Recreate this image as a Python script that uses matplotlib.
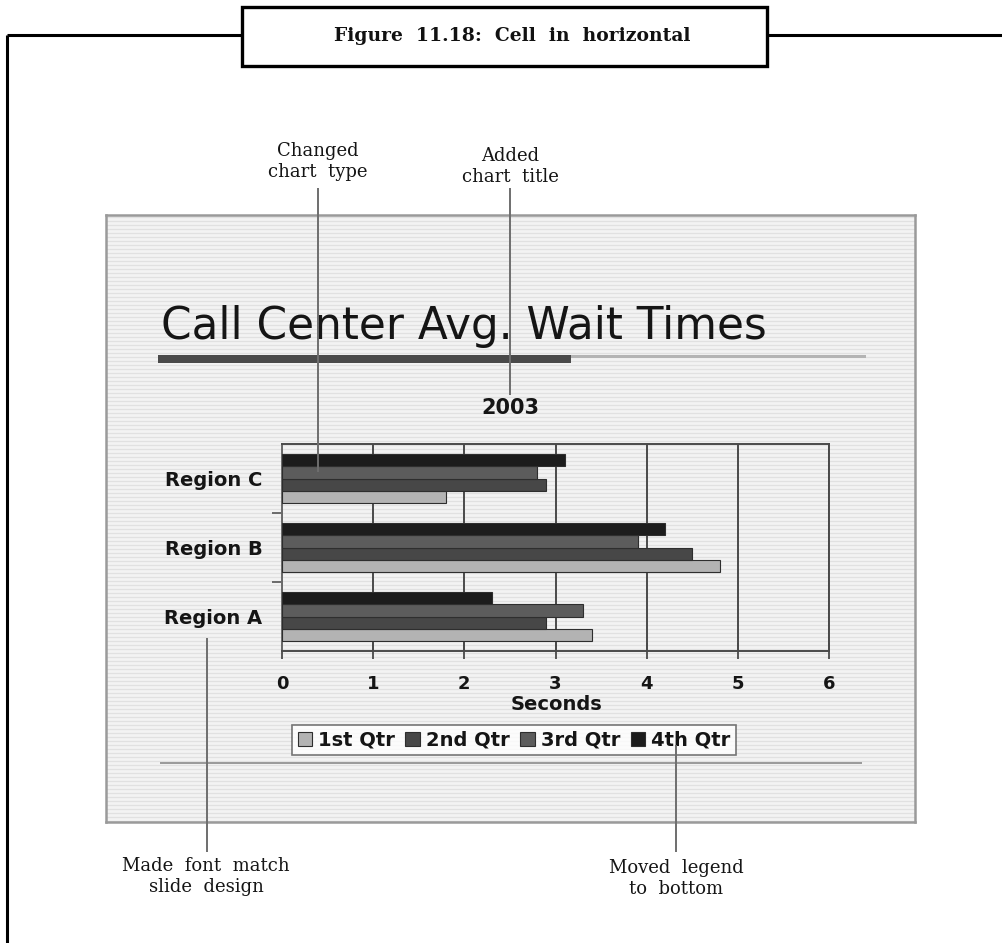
import matplotlib
matplotlib.use("Agg")
import matplotlib.pyplot as plt
from matplotlib.patches import Rectangle
from matplotlib.lines import Line2D
from matplotlib.ticker import FixedLocator

# ---- data ----
regions = ["Region A", "Region B", "Region C"]
quarters = ["1st Qtr", "2nd Qtr", "3rd Qtr", "4th Qtr"]
qtr1 = [3.4, 4.8, 1.8]
qtr2 = [2.9, 4.5, 2.9]
qtr3 = [3.3, 3.9, 2.8]
qtr4 = [2.3, 4.2, 3.1]
x_ticks = [0, 1, 2, 3, 4, 5, 6]

chart_title = "Call Center Avg. Wait Times"
chart_subtitle = "2003"
x_label = "Seconds"
figure_caption = "Figure  11.18:  Cell  in  horizontal"

series = [qtr1, qtr2, qtr3, qtr4]
colors = ["#b3b3b3", "#474747", "#5c5c5c", "#1c1c1c"]

W, H = 1002, 943
fig = plt.figure(figsize=(W / 100, H / 100), dpi=100)
fig.patch.set_facecolor("white")


def fx(px):
    return px / W


def fy(py):
    return 1 - py / H


def hline(x0, x1, y, color, lw, z=5):
    fig.add_artist(Line2D([fx(x0), fx(x1)], [fy(y), fy(y)], color=color, lw=lw,
                          transform=fig.transFigure, zorder=z, solid_capstyle="butt"))


def vline(x, y0, y1, color, lw, z=5):
    fig.add_artist(Line2D([fx(x), fx(x)], [fy(y0), fy(y1)], color=color, lw=lw,
                          transform=fig.transFigure, zorder=z, solid_capstyle="butt"))


# ---- outer page frame and caption box ----
hline(7, 242, 35, "black", 2.2)
hline(767, 1002, 35, "black", 2.2)
vline(7, 35, 943, "black", 2.2)
fig.add_artist(Rectangle((fx(242), fy(66)), fx(767) - fx(242), (66 - 7) / H,
                         facecolor="white", edgecolor="black", lw=2.4,
                         transform=fig.transFigure, zorder=6))
fig.text(fx(512), fy(36), figure_caption, ha="center", va="center",
         family="DejaVu Serif", weight="bold", fontsize=13.5, color="#111111", zorder=7)

# ---- slide panel with striped background ----
bg = fig.add_axes([fx(106), fy(822), fx(915) - fx(106), (822 - 215) / H], zorder=0)
bg.set_xlim(0, 1)
bg.set_ylim(822, 215)
bg.set_facecolor("#f3f3f3")
for yy in range(217, 822, 4):
    bg.axhline(yy, color="#e1e1e1", lw=0.9)
bg.set_xticks([])
bg.set_yticks([])
for s in bg.spines.values():
    s.set_color("#9a9a9a")
    s.set_linewidth(1.8)

# slide title and underline
fig.text(fx(161), fy(339), chart_title, ha="left", va="baseline",
         family="DejaVu Sans", fontsize=31.5, color="#151515", zorder=3)
fig.add_artist(Rectangle((fx(158), fy(357.5)), fx(866) - fx(158), 2.5 / H,
                         facecolor="#b4b4b4", edgecolor="none",
                         transform=fig.transFigure, zorder=3))
fig.add_artist(Rectangle((fx(158), fy(363)), fx(571) - fx(158), 8 / H,
                         facecolor="#4a4a4a", edgecolor="none",
                         transform=fig.transFigure, zorder=3))
fig.text(fx(510), fy(408), chart_subtitle, ha="center", va="center",
         family="DejaVu Sans", weight="bold", fontsize=15, color="#151515", zorder=3)

# ---- bar chart ----
ax = fig.add_axes([fx(282), fy(651), fx(829) - fx(282), (651 - 444) / H], zorder=2)
ax.patch.set_alpha(0)
ax.set_xlim(0, 6)
ax.set_ylim(-0.5, 2.5)

bar_h = 0.1775
offsets = [-1.5, -0.5, 0.5, 1.5]
handles = []
for vals, off, col, name in zip(series, offsets, colors, quarters):
    pos = [i + off * bar_h for i in range(len(regions))]
    b = ax.barh(pos, vals, height=bar_h, color=col, edgecolor="#2e2e2e",
                linewidth=0.8, label=name, zorder=3)
    handles.append(b)

ax.set_axisbelow(True)
ax.xaxis.grid(True, color="#4a4a4a", lw=1.4, zorder=1)
ax.set_xticks(x_ticks)
ax.set_xticklabels([str(t) for t in x_ticks], fontsize=13, weight="bold",
                   family="DejaVu Sans", color="#151515")
ax.tick_params(axis="x", direction="inout", length=11, width=1.3, color="#4a4a4a", pad=12)

ax.set_yticks(range(len(regions)))
ax.set_yticklabels(regions, fontsize=14, weight="bold", family="DejaVu Sans",
                   color="#151515")
ax.yaxis.set_minor_locator(FixedLocator([0.5, 1.5]))
ax.tick_params(axis="y", which="major", length=0, pad=14)
ax.tick_params(axis="y", which="minor", direction="out", length=7, width=1.2, color="#555555")

for s in ax.spines.values():
    s.set_color("#4a4a4a")
    s.set_linewidth(1.4)
ax.spines["left"].set_color("#6a6a6a")

ax.set_xlabel(x_label, fontsize=14, weight="bold", family="DejaVu Sans", color="#151515")
ax.xaxis.set_label_coords((557 - 282) / (829 - 282), -(705 - 651) / (651 - 444))
ax.xaxis.label.set_va("center")

leg = fig.legend(handles=handles, labels=quarters, ncol=4, loc="center",
                 bbox_to_anchor=(fx(514), fy(740)),
                 prop={"family": "DejaVu Sans", "weight": "bold", "size": 14},
                 frameon=True, fancybox=False, handlelength=0.75, handleheight=0.75,
                 handletextpad=0.3, columnspacing=0.55, borderpad=0.3, borderaxespad=0)
leg.get_frame().set_edgecolor("#555555")
leg.get_frame().set_linewidth(1.2)
leg.get_frame().set_facecolor("white")
leg.set_zorder(4)
for t in leg.get_texts():
    t.set_color("#151515")

hline(160, 862, 763, "#8a8a8a", 1.2, z=3)

# ---- callout lines and notes ----
call_col = "#6e6e6e"
vline(318, 188, 472, call_col, 1.4, z=8)
vline(510, 188, 395, call_col, 1.4, z=8)
vline(207, 638, 852, call_col, 1.4, z=8)
vline(676, 745, 852, call_col, 1.4, z=8)

note_kw = dict(ha="center", va="baseline", family="DejaVu Serif", fontsize=13,
               color="#151515", linespacing=1.2)
fig.text(fx(318), fy(177), "Changed\nchart  type", **note_kw)
fig.text(fx(510), fy(182), "Added\nchart  title", **note_kw)
fig.text(fx(206), fy(892), "Made  font  match\nslide  design", **note_kw)
fig.text(fx(676), fy(894), "Moved  legend\nto  bottom", **note_kw)

fig.savefig("out.png", dpi=100, facecolor="white")
